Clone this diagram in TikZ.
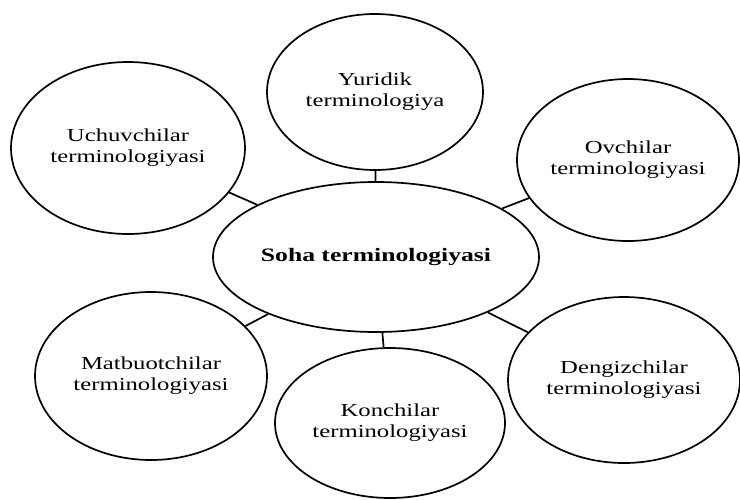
\documentclass[tikz,border=0pt]{standalone}
\usepackage{fontspec}
\setmainfont{Liberation Serif}[FakeStretch=1.35]
\usetikzlibrary{shapes.geometric}
\begin{document}
\begin{tikzpicture}[x=1pt,y=-1pt,
  bub/.style={ellipse,draw,line width=1.7pt,inner sep=0pt,align=center,
    font=\fontsize{18.3}{21}\selectfont},
  hub/.style={bub,font=\fontsize{19}{21}\selectfont\bfseries},
  link/.style={line width=1.7pt}]
\useasboundingbox (0,0) rectangle (740,499);
\node[hub, minimum width=326pt, minimum height=150pt] (c) at (376,257) {Soha terminologiyasi};
\node[bub, minimum width=216pt, minimum height=156pt] (yur) at (375,92) {Yuridik\\terminologiya};
\node[bub, minimum width=234pt, minimum height=172pt] (uch) at (128,148) {Uchuvchilar\\terminologiyasi};
\node[bub, minimum width=222pt, minimum height=162pt] (ovc) at (628,160) {Ovchilar\\terminologiyasi};
\node[bub, minimum width=232pt, minimum height=168pt] (mat) at (151,376) {Matbuotchilar\\terminologiyasi};
\node[bub, minimum width=230pt, minimum height=150pt] (kon) at (390,423) {Konchilar\\terminologiyasi};
\node[bub, minimum width=232pt, minimum height=166pt] (den) at (624,380) {Dengizchilar\\terminologiyasi};
\draw[link] (yur) -- (c);
\draw[link] (uch) -- (c);
\draw[link] (ovc) -- (c);
\draw[link] (mat) -- (c);
\draw[link] (kon) -- (c);
\draw[link] (den) -- (c);
\end{tikzpicture}
\end{document}
